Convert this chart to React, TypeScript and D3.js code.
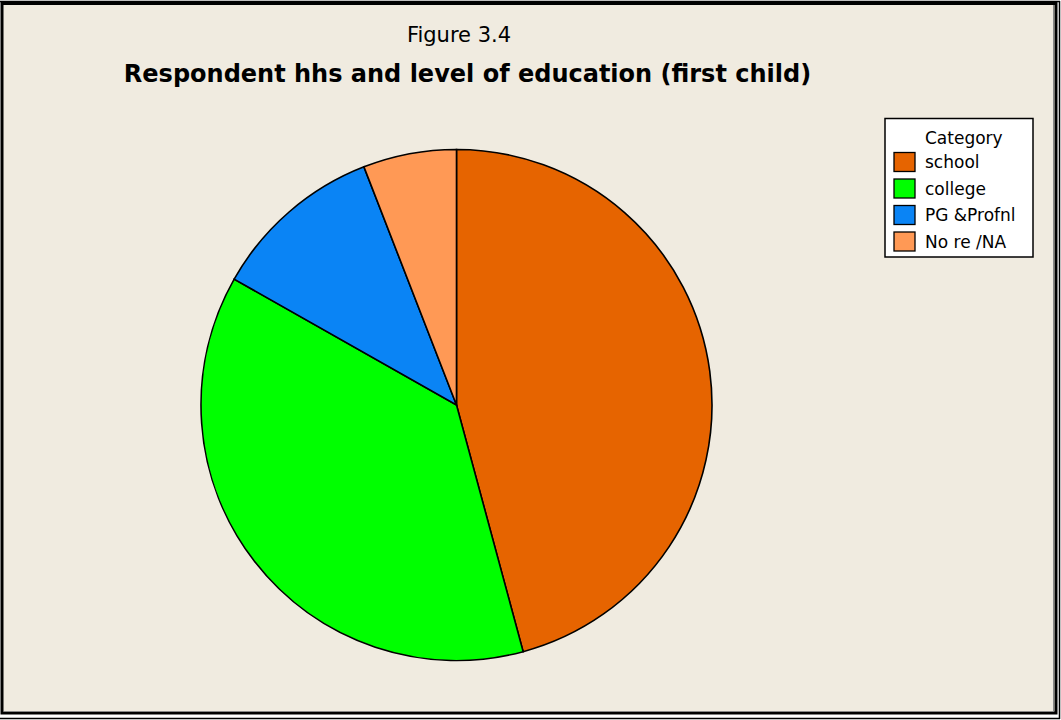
import React from "react";
import * as d3 from "d3";

const categories = ["school", "college", "PG &Profnl", "No re /NA"];
const values = [45.8, 37.4, 10.9, 5.9];
const colors = ["#E66400", "#00FF00", "#0A84F5", "#FF9955"];
const figureLabel = "Figure 3.4";
const title = "Respondent hhs and level of education (first child)";
const legendTitle = "Category";

export default function App() {
  const W = 1061, H = 720;
  const cx = 456.5, cy = 405, r = 255.5;
  const pie = d3.pie<number>().sort(null).value((d) => d);
  const arcs = pie(values);
  const arc = d3.arc<d3.PieArcDatum<number>>().innerRadius(0).outerRadius(r);
  const font = "DejaVu Sans, Verdana, sans-serif";
  return (
    <svg width={W} height={H} style={{ position: "absolute", left: 0, top: 0 }} fontFamily={font}>
      <rect x={0} y={0} width={W} height={H} fill="#ffffff" />
      <rect x={2} y={3.5} width={1054} height={709.5} fill="#F0EBE0" stroke="#000" strokeWidth={3} />
      <line x1={1053.5} y1={5} x2={1053.5} y2={711.5} stroke="#888" strokeWidth={1} />
      <line x1={3.5} y1={711.5} x2={1053.5} y2={711.5} stroke="#888" strokeWidth={1} />
      <line x1={1059.5} y1={1} x2={1059.5} y2={719} stroke="#000" strokeWidth={1.5} />
      <line x1={0} y1={718.5} x2={1060} y2={718.5} stroke="#000" strokeWidth={1.5} />
      <line x1={0} y1={1.5} x2={1060} y2={1.5} stroke="#000" strokeWidth={1.5} />
      <text x={459} y={42} textAnchor="middle" fontSize={21} fill="#000">{figureLabel}</text>
      <text x={467.5} y={82} textAnchor="middle" fontSize={24} fontWeight="bold" fill="#000">{title}</text>
      <g transform={`translate(${cx},${cy})`}>
        {arcs.map((a, i) => (
          <path key={i} d={arc(a) || ""} fill={colors[i]} stroke="#000" strokeWidth={1.6} />
        ))}
      </g>
      <g>
        <rect x={885} y={118.5} width={148} height={138.5} fill="#ffffff" stroke="#000" strokeWidth={1.5} />
        <text x={925} y={144} fontSize={17} fill="#000">{legendTitle}</text>
        {categories.map((c, i) => (
          <g key={c} transform={`translate(0,${162 + i * 26.5})`}>
            <rect x={894} y={-9.5} width={21} height={19} fill={colors[i]} stroke="#000" strokeWidth={1.3} />
            <text x={925} y={6} fontSize={17} fill="#000">{c}</text>
          </g>
        ))}
      </g>
    </svg>
  );
}
